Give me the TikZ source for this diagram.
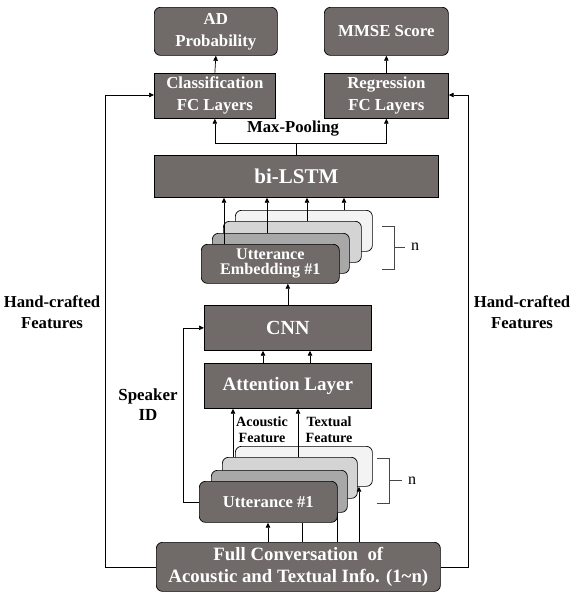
\documentclass[tikz,border=0pt]{standalone}
\usepackage{fontspec}
\setmainfont{Liberation Serif}
\usetikzlibrary{arrows.meta,calc}
\definecolor{boxgray}{RGB}{112,106,104}
\definecolor{layb}{RGB}{168,168,168}
\definecolor{layc}{RGB}{212,212,212}
\definecolor{layd}{RGB}{243,243,243}
\definecolor{brk}{RGB}{70,70,70}
\newcommand{\fs}[2]{\fontsize{#1}{#2}\selectfont}
\begin{document}
\begin{tikzpicture}[x=1pt,y=-1pt,
  box/.style={draw=black, fill=boxgray, text=white, font=\bfseries, align=center,
    inner sep=0pt, anchor=north west, line width=0.7pt},
  rbox/.style={box, rounded corners=6pt},
  lbl/.style={font=\bfseries, align=center, text=black, inner sep=0pt},
  arr/.style={-{Triangle[length=5pt,width=4.5pt]}, line width=0.7pt},
  ln/.style={line width=0.7pt},
  brack/.style={draw=brk, line width=0.7pt}]
\useasboundingbox (0,0) rectangle (576,598);

% top outputs
\node[rbox, minimum width=123pt, minimum height=48pt, font=\bfseries\fs{16.8}{22}] (ad) at (154,7) {AD\\Probability};
\node[rbox, minimum width=124pt, minimum height=48pt, font=\bfseries\fs{16.8}{22}] (mmse) at (324,7) {MMSE Score};
\node[box, minimum width=121pt, minimum height=45pt, font=\bfseries\fs{16.8}{22}] (cls) at (154,73) {Classification\\FC Layers};
\node[box, minimum width=124pt, minimum height=45pt, font=\bfseries\fs{16.8}{22}] (reg) at (324,73) {Regression\\FC Layers};

\draw[arr] (cls.north) -- (ad.south);
\draw[arr] (reg.north) -- (mmse.south);

% bi-LSTM
\node[box, minimum width=284pt, minimum height=42pt, font=\bfseries\fs{21}{24}] (lstm) at (154,155) {bi-LSTM};
\draw[ln] (lstm.north) -- ++(0,-12) coordinate (mp);
\draw[arr] (mp) -| (cls.south);
\draw[arr] (mp) -| (reg.south);
\node[lbl, font=\bfseries\fs{16.7}{20}] (mplabel) at (293,129) {Max-Pooling};

% upper stack
\node[rbox, fill=layd, minimum width=137pt, minimum height=41pt] (ud) at (235,210) {};
\node[rbox, fill=layc, minimum width=138pt, minimum height=41pt] (uc) at (223,221) {};
\node[rbox, fill=layb, minimum width=137pt, minimum height=40pt] (ub) at (212,233) {};
\node[rbox, minimum width=138pt, minimum height=39pt, font=\bfseries\fs{16.2}{15}] (ua) at (201,244) {Utterance\\Embedding \#1};

\path ([xshift=23pt]ua.north west) coordinate (a1)
      ([xshift=55pt]ub.north west) coordinate (a2)
      ([xshift=84pt]uc.north west) coordinate (a3)
      ([xshift=109pt]ud.north west) coordinate (a4);
\foreach \c in {a1,a2,a3,a4} \draw[arr] (\c) -- (\c |- lstm.south);

% bracket upper
\draw[brack] (382,226) -- (394,226) -- (394,269) -- (382,269);
\draw[brack] (394,247.5) -- (405,247.5);
\node[inner sep=0pt, font=\fs{16}{18}] (n1) at (415,247) {n};

% CNN & attention
\node[box, minimum width=167pt, minimum height=45pt, font=\bfseries\fs{20}{24}] (cnn) at (204,305) {CNN};
\node[box, minimum width=167pt, minimum height=45pt, font=\bfseries\fs{19}{24}] (att) at (204,363) {Attention Layer};
\draw[arr] (cnn.north) -- (cnn.north |- ua.south);
\path ([xshift=59pt]att.north west) coordinate (b1)
      ([xshift=106pt]att.north west) coordinate (b2);
\draw[arr] (b1) -- (b1 |- cnn.south);
\draw[arr] (b2) -- (b2 |- cnn.south);

% full conversation
\node[rbox, minimum width=284pt, minimum height=49pt, font=\bfseries\fs{18.8}{22}] (full) at (156,542) {Full Conversation\ \ of\\Acoustic and Textual Info. (1\textasciitilde n)};

% lower stack
\node[rbox, fill=layd, minimum width=137pt, minimum height=40pt] (ld) at (235,446) {};
\node[rbox, fill=layc, minimum width=135pt, minimum height=41pt] (lc) at (222,457) {};
\node[rbox, fill=layb, minimum width=136pt, minimum height=42pt] (lb) at (211,470) {};
\node[rbox, minimum width=138pt, minimum height=41pt, font=\bfseries\fs{16.6}{20}] (la) at (199,481) {Utterance \#1};

\path ([xshift=11pt]lc.north west) coordinate (c1)
      ([xshift=76pt]lc.north west) coordinate (c2);
\draw[arr] (c1) -- (c1 |- att.south);
\draw[arr] (c2) -- (c2 |- att.south);
\node[lbl, font=\bfseries\fs{14.1}{16}] (acl) at (262,430) {Acoustic\\Feature};
\node[lbl, font=\bfseries\fs{14.1}{16}] (txl) at (329,430) {Textual\\Feature};

\path ([xshift=112pt]full.north west) coordinate (f1)
      ([xshift=146pt]full.north west) coordinate (f2)
      ([xshift=181pt]full.north west) coordinate (f3)
      ([xshift=203pt]full.north west) coordinate (f4);
\draw[arr] (f1) -- (f1 |- la.south);
\draw[ln] (f2) -- (f2 |- la.south);
\draw[ln] (f3) -- (f3 |- lb.south);
\draw[arr] (f4) -- (f4 |- ld.south);

% bracket lower
\draw[brack] (377,458) -- (389,458) -- (389,503) -- (377,503);
\draw[brack] (389,480.5) -- (402,480.5);
\node[inner sep=0pt, font=\fs{16}{18}] (n2) at (412,481) {n};

% speaker ID
\coordinate (sp) at (183,0);
\draw[arr] (la.west) -| (sp |- cnn.west) -- (cnn.west);
\node[lbl, font=\bfseries\fs{16.9}{20}] (spl) at (148,405) {Speaker\\ID};

% hand-crafted features
\coordinate (hl) at (105,95);
\coordinate (hr) at (468,95);
\draw[arr] (full.west) -| (hl) -- (hl -| cls.west);
\draw[arr] (full.east) -| (hr) -- (hr -| reg.east);
\node[lbl, font=\bfseries\fs{16.7}{21}] (hfl) at (52,312) {Hand-crafted\\Features};
\node[lbl, font=\bfseries\fs{16.7}{21}] (hfr) at (522,312) {Hand-crafted\\Features};
\end{tikzpicture}
\end{document}
